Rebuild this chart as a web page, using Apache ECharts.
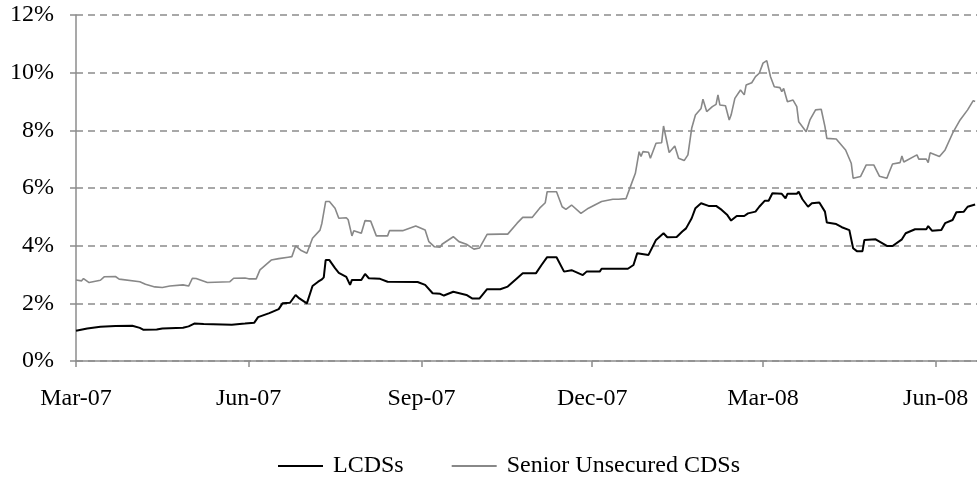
<!DOCTYPE html>
<html>
<head>
<meta charset="utf-8">
<script src="https://cdn.jsdelivr.net/npm/echarts@6/dist/echarts.min.js"></script>
<style>
  html, body { margin: 0; padding: 0; background: #fff; }
  #main { width: 977px; height: 478px; }
</style>
</head>
<body>
<div id="main"></div>
<script>
// LCDS spread (%)
var lcdsDates = [
  '2007-03-01','2007-03-07','2007-03-14','2007-03-22','2007-03-31','2007-04-04','2007-04-06','2007-04-13',
  '2007-04-16','2007-04-27','2007-04-30','2007-05-03','2007-05-08','2007-05-23','2007-05-30','2007-06-04',
  '2007-06-05','2007-06-06','2007-06-12','2007-06-17','2007-06-19','2007-06-23','2007-06-26','2007-06-28',
  '2007-07-02','2007-07-05','2007-07-08','2007-07-10','2007-07-11','2007-07-12','2007-07-14','2007-07-17',
  '2007-07-19','2007-07-23','2007-07-25','2007-07-26','2007-07-31','2007-08-02','2007-08-04','2007-08-10',
  '2007-08-14','2007-08-30','2007-09-03','2007-09-07','2007-09-11','2007-09-13','2007-09-18','2007-09-25',
  '2007-09-28','2007-10-02','2007-10-06','2007-10-13','2007-10-17','2007-10-22','2007-10-25','2007-11-01',
  '2007-11-04','2007-11-07','2007-11-12','2007-11-16','2007-11-20','2007-11-26','2007-11-28','2007-12-05',
  '2007-12-06','2007-12-20','2007-12-23','2007-12-25','2007-12-31','2008-01-04','2008-01-08','2008-01-10',
  '2008-01-15','2008-01-18','2008-01-20','2008-01-23','2008-01-25','2008-01-28','2008-02-01','2008-02-05',
  '2008-02-08','2008-02-11','2008-02-13','2008-02-16','2008-02-20','2008-02-22','2008-02-26','2008-02-28',
  '2008-03-02','2008-03-04','2008-03-06','2008-03-11','2008-03-13','2008-03-14','2008-03-19','2008-03-20',
  '2008-03-22','2008-03-25','2008-03-27','2008-03-31','2008-04-03','2008-04-04','2008-04-09','2008-04-12',
  '2008-04-16','2008-04-18','2008-04-20','2008-04-23','2008-04-24','2008-04-30','2008-05-06','2008-05-09',
  '2008-05-14','2008-05-16','2008-05-21','2008-05-27','2008-05-28','2008-05-30','2008-06-04','2008-06-06',
  '2008-06-10','2008-06-12','2008-06-16','2008-06-18','2008-06-22'
];
var lcdsValues = [
  1.05, 1.13, 1.19, 1.21, 1.22, 1.15, 1.08, 1.09,
  1.13, 1.15, 1.20, 1.30, 1.28, 1.26, 1.30, 1.33,
  1.36, 1.52, 1.66, 1.80, 2.00, 2.02, 2.29, 2.17,
  2.00, 2.60, 2.75, 2.83, 2.90, 3.50, 3.50, 3.22,
  3.06, 2.92, 2.64, 2.81, 2.81, 3.02, 2.87, 2.85,
  2.75, 2.74, 2.64, 2.35, 2.33, 2.27, 2.40, 2.29,
  2.17, 2.17, 2.49, 2.49, 2.58, 2.87, 3.04, 3.04,
  3.33, 3.60, 3.60, 3.10, 3.15, 2.98, 3.10, 3.10,
  3.20, 3.20, 3.33, 3.74, 3.68, 4.20, 4.43, 4.29,
  4.30, 4.49, 4.60, 4.95, 5.30, 5.47, 5.38, 5.38,
  5.24, 5.06, 4.87, 5.03, 5.03, 5.12, 5.18, 5.35,
  5.56, 5.56, 5.82, 5.80, 5.64, 5.80, 5.80, 5.87,
  5.61, 5.35, 5.47, 5.50, 5.18, 4.80, 4.75, 4.64,
  4.54, 3.91, 3.81, 3.81, 4.20, 4.22, 3.99, 3.99,
  4.22, 4.43, 4.57, 4.57, 4.68, 4.52, 4.54, 4.78,
  4.89, 5.16, 5.18, 5.35, 5.43
];

// Senior unsecured CDS spread (%)
var seniorDates = [
  '2007-03-01','2007-03-04','2007-03-05','2007-03-08','2007-03-14','2007-03-16','2007-03-22','2007-03-24',
  '2007-04-04','2007-04-07','2007-04-12','2007-04-16','2007-04-20','2007-04-27','2007-04-30','2007-05-02',
  '2007-05-04','2007-05-10','2007-05-22','2007-05-24','2007-05-30','2007-06-01','2007-06-05','2007-06-07',
  '2007-06-13','2007-06-17','2007-06-22','2007-06-24','2007-06-26','2007-06-29','2007-07-02','2007-07-05',
  '2007-07-09','2007-07-10','2007-07-12','2007-07-14','2007-07-17','2007-07-19','2007-07-23','2007-07-24',
  '2007-07-26','2007-07-27','2007-07-31','2007-08-02','2007-08-05','2007-08-08','2007-08-14','2007-08-15',
  '2007-08-22','2007-08-29','2007-09-03','2007-09-05','2007-09-08','2007-09-11','2007-09-12','2007-09-13',
  '2007-09-18','2007-09-21','2007-09-25','2007-09-29','2007-10-02','2007-10-06','2007-10-13','2007-10-17',
  '2007-10-22','2007-10-25','2007-10-30','2007-11-03','2007-11-06','2007-11-07','2007-11-12','2007-11-15',
  '2007-11-17','2007-11-20','2007-11-25','2007-11-29','2007-12-06','2007-12-12','2007-12-15','2007-12-19',
  '2007-12-22','2007-12-24','2007-12-26','2007-12-27','2007-12-28','2007-12-31','2008-01-01','2008-01-04',
  '2008-01-07','2008-01-08','2008-01-09','2008-01-11','2008-01-14','2008-01-16','2008-01-19','2008-01-21',
  '2008-01-23','2008-01-25','2008-01-28','2008-01-29','2008-01-31','2008-02-03','2008-02-05','2008-02-06',
  '2008-02-07','2008-02-10','2008-02-12','2008-02-13','2008-02-15','2008-02-18','2008-02-20','2008-02-21',
  '2008-02-24','2008-02-26','2008-02-28','2008-03-01','2008-03-03','2008-03-04','2008-03-05','2008-03-07',
  '2008-03-10','2008-03-11','2008-03-12','2008-03-14','2008-03-17','2008-03-19','2008-03-20','2008-03-24',
  '2008-03-26','2008-03-29','2008-04-01','2008-04-03','2008-04-04','2008-04-09','2008-04-14','2008-04-17',
  '2008-04-18','2008-04-22','2008-04-25','2008-04-29','2008-05-02','2008-05-06','2008-05-07','2008-05-09',
  '2008-05-13','2008-05-14','2008-05-15','2008-05-22','2008-05-23','2008-05-27','2008-05-28','2008-05-29',
  '2008-06-03','2008-06-06','2008-06-10','2008-06-14','2008-06-18','2008-06-21','2008-06-22'
];
var seniorValues = [
  2.81, 2.78, 2.86, 2.72, 2.80, 2.92, 2.93, 2.84,
  2.75, 2.66, 2.57, 2.55, 2.60, 2.64, 2.60, 2.87,
  2.86, 2.72, 2.75, 2.87, 2.88, 2.85, 2.85, 3.16,
  3.50, 3.55, 3.60, 3.62, 3.99, 3.83, 3.74, 4.26,
  4.54, 4.78, 5.53, 5.53, 5.30, 4.95, 4.97, 4.90,
  4.34, 4.52, 4.43, 4.87, 4.85, 4.34, 4.34, 4.52,
  4.52, 4.68, 4.54, 4.14, 3.96, 3.95, 4.05, 3.99,
  4.31, 4.14, 4.05, 3.88, 3.92, 4.39, 4.40, 4.40,
  4.78, 4.98, 4.98, 5.30, 5.49, 5.87, 5.87, 5.35,
  5.26, 5.41, 5.12, 5.30, 5.53, 5.61, 5.61, 5.63,
  6.16, 6.51, 7.26, 7.09, 7.26, 7.24, 7.03, 7.55,
  7.57, 8.15, 8.10, 7.23, 7.46, 7.03, 6.95, 7.15,
  8.07, 8.53, 8.76, 9.08, 8.65, 8.82, 8.90, 9.23,
  8.88, 8.85, 8.36, 8.53, 9.11, 9.40, 9.23, 9.57,
  9.65, 9.86, 9.98, 10.33, 10.42, 10.38, 9.86, 9.51,
  9.48, 9.34, 9.45, 8.99, 9.05, 8.82, 8.30, 7.95,
  8.36, 8.71, 8.73, 8.13, 7.72, 7.70, 7.32, 6.86,
  6.34, 6.40, 6.80, 6.80, 6.41, 6.34, 6.51, 6.83,
  6.88, 7.11, 6.90, 7.15, 7.00, 7.00, 6.88, 7.22,
  7.09, 7.32, 7.90, 8.36, 8.71, 9.03, 9.00
];

var tickDates = ['2007-03-01', '2007-06-01', '2007-09-01', '2007-12-01', '2008-03-01', '2008-06-01'];
var startDate = '2007-03-01';
var endDate = '2008-06-23';
var monthNames = ['Jan','Feb','Mar','Apr','May','Jun','Jul','Aug','Sep','Oct','Nov','Dec'];

// x axis runs in days since the first date
function toDay(s) {
  var p = s.split('-');
  var t = Date.UTC(+p[0], +p[1] - 1, +p[2]);
  var p0 = startDate.split('-');
  return Math.round((t - Date.UTC(+p0[0], +p0[1] - 1, +p0[2])) / 86400000);
}
function dayLabel(day) {
  var p0 = startDate.split('-');
  var d = new Date(Date.UTC(+p0[0], +p0[1] - 1, +p0[2]) + day * 86400000);
  return monthNames[d.getUTCMonth()] + '-' + String(d.getUTCFullYear()).slice(2);
}
function pairs(dates, vals) {
  var out = [];
  for (var i = 0; i < dates.length; i++) out.push([toDay(dates[i]), vals[i]]);
  return out;
}

var tickDays = tickDates.map(toDay);
var axisGray = '#8c8c8c';
var font = 'Liberation Serif';

var chart = echarts.init(document.getElementById('main'), null, { renderer: 'canvas' });
var option = {
  animation: false,
  backgroundColor: '#fff',
  grid: { left: 76, right: 0, top: 15, bottom: 117, containLabel: false },
  legend: {
    left: 273,
    top: 449,
    icon: 'rect',
    itemWidth: 45,
    itemHeight: 2,
    itemGap: 48,
    textStyle: { fontFamily: font, fontSize: 24, color: '#000', padding: [0, 0, 0, 5] },
    data: ['LCDSs', 'Senior Unsecured CDSs']
  },
  xAxis: {
    type: 'value',
    min: 0,
    max: toDay(endDate),
    axisLine: { lineStyle: { color: axisGray, width: 1.5 } },
    axisTick: { show: true, length: 6, customValues: tickDays, lineStyle: { color: axisGray, width: 1.5 } },
    axisLabel: {
      customValues: tickDays,
      margin: 26,
      fontFamily: font,
      fontSize: 24,
      color: '#000',
      formatter: function (v) { return dayLabel(v); }
    },
    splitLine: { show: false }
  },
  yAxis: {
    type: 'value',
    min: 0,
    max: 12,
    interval: 2,
    axisLine: { show: true, lineStyle: { color: axisGray, width: 1.5 } },
    axisTick: { show: true, length: 6, lineStyle: { color: axisGray, width: 1.5 } },
    axisLabel: {
      margin: 22,
      fontFamily: font,
      fontSize: 24,
      color: '#000',
      formatter: '{value}%'
    },
    splitLine: { show: true, lineStyle: { color: axisGray, width: 1.5, type: [7, 5] } }
  },
  series: [
    {
      name: 'LCDSs',
      type: 'line',
      symbol: 'none',
      color: '#000',
      lineStyle: { color: '#000', width: 2 },
      data: pairs(lcdsDates, lcdsValues)
    },
    {
      name: 'Senior Unsecured CDSs',
      type: 'line',
      symbol: 'none',
      color: '#888',
      lineStyle: { color: '#888', width: 1.6 },
      data: pairs(seniorDates, seniorValues)
    }
  ]
};
chart.setOption(option);
</script>
</body>
</html>
